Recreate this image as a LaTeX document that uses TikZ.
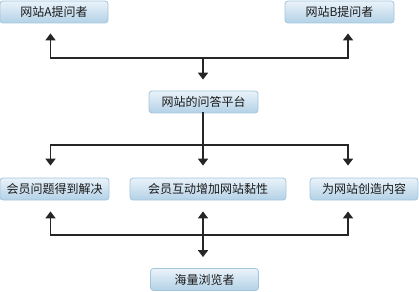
\documentclass[tikz,border=0pt]{standalone}
\usepackage{fontspec}
\newfontfamily\cjk{Noto Sans CJK SC}
\usetikzlibrary{arrows.meta}
\definecolor{boxtop}{HTML}{EAF3FA}
\definecolor{boxbot}{HTML}{B3D1E6}
\definecolor{boxedge}{HTML}{A3C5DC}
\definecolor{linec}{HTML}{262626}
\definecolor{txt}{HTML}{1A1A1A}
\tikzset{
  box/.style={draw=boxedge, line width=0.8pt, rounded corners=3pt, top color=boxtop, bottom color=boxbot,
    minimum height=22pt, inner sep=0pt, font=\cjk\fontsize{12}{14}\selectfont, text=txt},
  bar/.style={draw=linec, line width=1.9pt, line cap=rect},
  arr/.style={draw=linec, line width=1.9pt, -{Triangle[width=10pt,length=7pt]}},
}
\begin{document}
\begin{tikzpicture}[x=1pt,y=-1pt]
\useasboundingbox (0,0) rectangle (419,291);
% boxes
\node[box, minimum width=108pt] (A) at (54,12) {网站A提问者};
\node[box, minimum width=109pt] (B) at (339.5,12) {网站B提问者};
\node[box, minimum width=109pt] (M) at (203.5,102) {网站的问答平台};
\node[box, minimum width=109pt] (C1) at (54.5,189) {会员问题得到解决};
\node[box, minimum width=156pt] (C2) at (208,189) {会员互动增加网站黏性};
\node[box, minimum width=108pt] (C3) at (364,189) {为网站创造内容};
\node[box, minimum width=108pt] (D) at (204.5,279.5) {海量浏览者};
% junction coordinates
\coordinate (tL) at (50.5,58);
\coordinate (tC) at (203,58);
\coordinate (tR) at (348,58);
\coordinate (mL) at (50.5,145);
\coordinate (mC) at (203,145);
\coordinate (mR) at (348,145);
\coordinate (bL) at (50.5,235);
\coordinate (bC) at (203,235);
\coordinate (bR) at (348,235);
% top level
\draw[bar] (tL) -- (tR);
\draw[arr, shorten >=10pt] (tL) -- (tL |- A.south);
\draw[arr, shorten >=10pt] (tR) -- (tR |- B.south);
\draw[arr, shorten >=11pt] (tC) -- (tC |- M.north);
% middle level
\draw[bar] (mC |- M.south) -- (mC);
\draw[bar] (mL) -- (mR);
\draw[arr, shorten >=12pt] (mL) -- (mL |- C1.north);
\draw[arr, shorten >=12pt] (mC) -- (mC |- C2.north);
\draw[arr, shorten >=12pt] (mR) -- (mR |- C3.north);
% bottom level
\draw[bar] (bL) -- (bR);
\draw[arr, shorten >=11pt] (bL) -- (bL |- C1.south);
\draw[arr, shorten >=11pt] (bC) -- (bC |- C2.south);
\draw[arr, shorten >=11pt] (bR) -- (bR |- C3.south);
\draw[arr, shorten >=11pt] (bC) -- (bC |- D.north);
\end{tikzpicture}
\end{document}
